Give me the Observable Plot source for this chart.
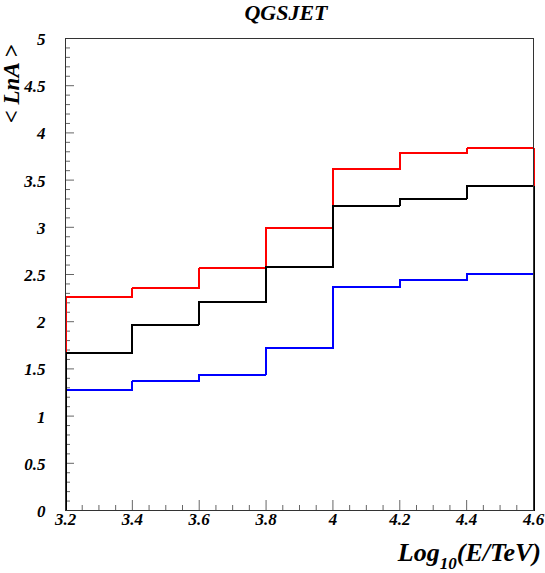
<!DOCTYPE html>
<html><head><meta charset="utf-8">
<script src="https://cdn.jsdelivr.net/npm/d3@7"></script>
<script src="https://cdn.jsdelivr.net/npm/@observablehq/plot@0.6"></script>
<style>body{margin:0;background:#fff}#chart{width:545px;height:573px}</style>
</head><body><div id="chart"></div>
<script>
const binEdges = [3.2, 3.4, 3.6, 3.8, 4.0, 4.2, 4.4, 4.6];
const redValues = [2.26, 2.355, 2.565, 2.99, 3.615, 3.785, 3.835];
const blackValues = [1.67, 1.97, 2.21, 2.58, 3.23, 3.305, 3.44];
const blueValues = [1.28, 1.37, 1.44, 1.72, 2.37, 2.44, 2.51];
const seriesNames = ["red", "blue", "black"];
const seriesColors = ["#ff0000", "#0000ff", "#000000"];
const xTicks = [3.2, 3.4, 3.6, 3.8, 4.0, 4.2, 4.4, 4.6];
const xTickLabels = ["3.2", "3.4", "3.6", "3.8", "4", "4.2", "4.4", "4.6"];
const yTicks = [0, 0.5, 1, 1.5, 2, 2.5, 3, 3.5, 4, 4.5, 5];
const yTickLabels = ["0", "0.5", "1", "1.5", "2", "2.5", "3", "3.5", "4", "4.5", "5"];
const titleText = "QGSJET";
const yTitleText = "< LnA >";

const W = 545, H = 573, mL = 65, mR = 12, mT = 38, mB = 63;
const plotW = W - mL - mR, plotH = H - mT - mB;

const valuesBySeries = [redValues, blueValues, blackValues];
function stepPoints(vals) {
  const pts = [{x: binEdges[0], y: 0}];
  vals.forEach((v, i) => {
    pts.push({x: binEdges[i], y: v});
    pts.push({x: binEdges[i + 1], y: v});
  });
  pts.push({x: binEdges[binEdges.length - 1], y: 0});
  return pts;
}

const minorX = d3.range(0, 29).map(i => +(3.2 + i * 0.05).toFixed(2)).filter(v => !xTicks.some(t => Math.abs(t - v) < 1e-6));
const minorY = d3.range(0, 51).map(i => +(i * 0.1).toFixed(1)).filter(v => !yTicks.some(t => Math.abs(t - v) < 1e-6));

const font = "'Liberation Serif', 'Times New Roman', serif";

const chart = Plot.plot({
  width: W, height: H,
  marginLeft: mL, marginRight: mR, marginTop: mT, marginBottom: mB,
  x: {domain: [3.2, 4.6], axis: null},
  y: {domain: [0, 5], axis: null},
  style: {fontFamily: font, background: "#fff"},
  marks: [
    Plot.ruleX(minorX, {x: d => d, insetTop: plotH - 5, stroke: "#666", strokeWidth: 1}),
    Plot.ruleX(xTicks, {x: d => d, insetTop: plotH - 10, stroke: "#666", strokeWidth: 1}),
    Plot.ruleY(minorY, {y: d => d, insetRight: plotW - 5, stroke: "#666", strokeWidth: 1}),
    Plot.ruleY(yTicks, {y: d => d, insetRight: plotW - 9, stroke: "#666", strokeWidth: 1}),
    ...valuesBySeries.map((vals, s) => Plot.line(stepPoints(vals), {x: "x", y: "y", stroke: seriesColors[s], strokeWidth: 2, shapeRendering: "crispEdges"})),
    Plot.frame({stroke: "#333", strokeWidth: 1}),
    Plot.text(xTicks, {x: d => d, frameAnchor: "bottom", dy: 14, text: (d, i) => xTickLabels[i], fontSize: 17, fontWeight: "bold", fontStyle: "italic", fill: "#000"}),
    Plot.text(yTicks, {y: d => d, frameAnchor: "left", dx: -20, dy: 1, textAnchor: "end", text: (d, i) => yTickLabels[i], fontSize: 17, fontWeight: "bold", fontStyle: "italic", fill: "#000"})
  ]
});
document.getElementById("chart").appendChild(chart);

const svg = d3.select(chart);
svg.append("text").attr("x", 286).attr("y", 20).attr("text-anchor", "middle")
  .attr("font-family", font).attr("font-weight", "bold").attr("font-style", "italic")
  .attr("font-size", 22).attr("fill", "#000").text(titleText);

const xt = svg.append("text").attr("x", 541).attr("y", 561).attr("text-anchor", "end")
  .attr("font-family", font).attr("font-weight", "bold").attr("font-style", "italic")
  .attr("font-size", 26).attr("fill", "#000");
xt.append("tspan").text("Log");
xt.append("tspan").attr("dy", 8).attr("font-size", 17).text("10");
xt.append("tspan").attr("dy", -8).text("(E/TeV)");

svg.append("text").attr("transform", "translate(19,84) rotate(-90)").attr("text-anchor", "middle")
  .attr("font-family", font).attr("font-weight", "bold").attr("font-style", "italic")
  .attr("font-size", 23).attr("fill", "#000").text(yTitleText);
</script>
</body></html>
